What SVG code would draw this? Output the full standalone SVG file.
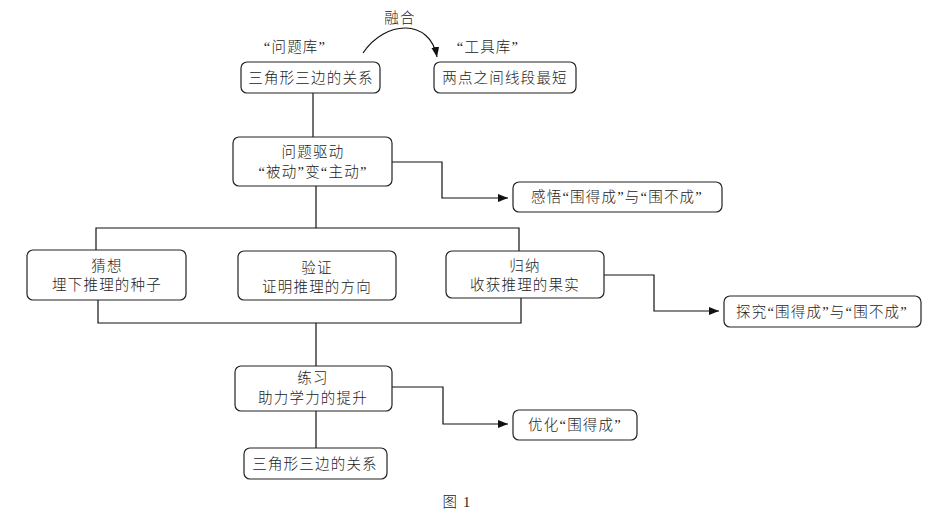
<svg xmlns="http://www.w3.org/2000/svg" width="938" height="516" viewBox="0 0 938 516">
<style>
.box{fill:#fff;stroke:#222;stroke-width:1.2}
.ln{fill:none;stroke:#111;stroke-width:1.2}
text{font-family:"Liberation Serif","Noto Sans CJK SC",serif;font-size:14.5px;font-weight:300;fill:#222;text-anchor:middle;dominant-baseline:central;letter-spacing:1.2px}
</style>
<defs>
<marker id="ah" markerUnits="userSpaceOnUse" markerWidth="10" markerHeight="8" refX="10" refY="4" orient="auto">
<path d="M0,0 L10,4 L0,8 z" fill="#111"/>
</marker>
</defs>
<rect width="938" height="516" fill="#fff"/>
<g id="connectors">
<path class="ln" d="M363,53 C385,20 430,18 437,57" marker-end="url(#ah)"/>
<path class="ln" d="M313,93 V137"/>
<path class="ln" d="M392,162 H442 V198 H508" marker-end="url(#ah)"/>
<path class="ln" d="M316,186 V228 M96,250 V228 H519 V251"/>
<path class="ln" d="M98,300 V323 H521 V298 M316,323 V366"/>
<path class="ln" d="M604,275 H654 V311 H719" marker-end="url(#ah)"/>
<path class="ln" d="M392,387 H443 V424 H508" marker-end="url(#ah)"/>
<path class="ln" d="M316,411 V448"/>
</g>
<g id="label-ronghe"><text x="400" y="18">融合</text></g>
<g id="label-wentiku"><text x="295" y="47">“问题库”</text></g>
<g id="label-gongjuku"><text x="488" y="47">“工具库”</text></g>
<g id="n1"><rect class="box" x="241" y="62" width="139" height="31" rx="6"/><text x="311" y="77.5">三角形三边的关系</text></g>
<g id="n2"><rect class="box" x="434" y="62" width="142" height="31" rx="6"/><text x="505" y="77.5">两点之间线段最短</text></g>
<g id="n3"><rect class="box" x="233" y="137" width="159" height="49" rx="6"/><text x="313" y="152">问题驱动</text><text x="313" y="172">“被动”变“主动”</text></g>
<g id="n4"><rect class="box" x="513" y="182" width="209" height="30" rx="6"/><text x="617" y="197">感悟“围得成”与“围不成”</text></g>
<g id="n5"><rect class="box" x="27" y="250" width="159" height="50" rx="6"/><text x="107" y="266">猜想</text><text x="107" y="285">埋下推理的种子</text></g>
<g id="n6"><rect class="box" x="238" y="251" width="158" height="49" rx="6"/><text x="317" y="268">验证</text><text x="317" y="287">证明推理的方向</text></g>
<g id="n7"><rect class="box" x="446" y="251" width="158" height="47" rx="6"/><text x="525" y="266">归纳</text><text x="525" y="285">收获推理的果实</text></g>
<g id="n8"><rect class="box" x="724" y="296" width="197" height="31" rx="6"/><text x="822" y="311.5">探究“围得成”与“围不成”</text></g>
<g id="n9"><rect class="box" x="235" y="366" width="157" height="45" rx="6"/><text x="313" y="378">练习</text><text x="313" y="398">助力学力的提升</text></g>
<g id="n10"><rect class="box" x="513" y="410" width="124" height="30" rx="6"/><text x="575" y="425">优化“围得成”</text></g>
<g id="n11"><rect class="box" x="244" y="448" width="143" height="31" rx="6"/><text x="315" y="463.5">三角形三边的关系</text></g>
<g id="caption"><text x="457" y="502">图 1</text></g>
</svg>
